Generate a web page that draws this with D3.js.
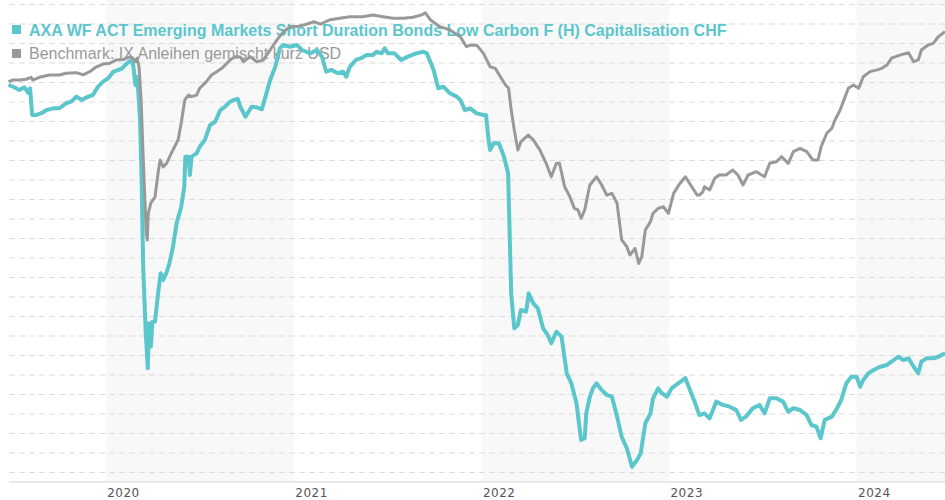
<!DOCTYPE html>
<html>
<head>
<meta charset="utf-8">
<script src="https://cdn.jsdelivr.net/npm/d3@7"></script>
<style>
  body { margin: 0; background: #fff; }
  svg { display: block; }
</style>
</head>
<body>
<div id="chart"></div>
<script>
// legend labels
const seriesNames = [
  "AXA WF ACT Emerging Markets Short Duration Bonds Low Carbon F (H) Capitalisation CHF",
  "Benchmark: IX Anleihen gemischt kurz USD"
];
const seriesColors = ["#5bc6cc", "#999999"];

// x axis labels (year starts) and the years drawn with a grey band
const yearTicks = ["2020-01-01", "2021-01-01", "2022-01-01", "2023-01-01", "2024-01-01"];
const shadedYears = ["2020", "2022", "2024"];

// y grid values (chart has no y labels, values are an unlabeled index)
const gridValues = d3.range(0, 241, 10);

// fund (teal)
const axaSeries = [
  ["2019-06-26", 198.5], ["2019-07-07", 197.3], ["2019-07-17", 195.9], ["2019-07-27", 197.3],
  ["2019-08-03", 194.5], ["2019-08-07", 196.8], ["2019-08-11", 183.1], ["2019-08-19", 183.1],
  ["2019-08-29", 184.0], ["2019-09-08", 185.6], ["2019-09-21", 186.5], ["2019-10-03", 186.5],
  ["2019-10-16", 189.1], ["2019-10-26", 189.9], ["2019-11-05", 192.5], ["2019-11-15", 190.8],
  ["2019-11-28", 192.5], ["2019-12-07", 193.3], ["2019-12-17", 197.6], ["2019-12-27", 200.2],
  ["2020-01-06", 201.9], ["2020-01-16", 205.3], ["2020-01-26", 206.2], ["2020-02-02", 207.0],
  ["2020-02-08", 208.7], ["2020-02-15", 210.4], ["2020-02-21", 211.3], ["2020-02-24", 207.8],
  ["2020-02-28", 198.5], ["2020-03-01", 202.7], ["2020-03-04", 196.8], ["2020-03-08", 180.5],
  ["2020-03-11", 149.7], ["2020-03-14", 105.3], ["2020-03-19", 71.3], ["2020-03-23", 53.2],
  ["2020-03-25", 76.3], ["2020-03-29", 64.3], ["2020-04-01", 77.1], ["2020-04-06", 77.1],
  ["2020-04-12", 91.6], ["2020-04-17", 101.9], ["2020-04-22", 98.5], ["2020-04-29", 102.7],
  ["2020-05-04", 107.0], ["2020-05-11", 115.5], ["2020-05-18", 127.5], ["2020-05-27", 136.0],
  ["2020-06-02", 146.3], ["2020-06-04", 161.7], ["2020-06-10", 161.7], ["2020-06-13", 152.3],
  ["2020-06-16", 161.7], ["2020-06-26", 163.4], ["2020-07-02", 166.8], ["2020-07-12", 170.3],
  ["2020-07-22", 177.9], ["2020-08-01", 179.6], ["2020-08-11", 185.6], ["2020-08-20", 187.3],
  ["2020-08-30", 189.9], ["2020-09-06", 190.8], ["2020-09-14", 191.3], ["2020-09-19", 187.3],
  ["2020-09-29", 182.2], ["2020-10-11", 187.3], ["2020-10-21", 187.0], ["2020-10-31", 186.0],
  ["2020-11-06", 191.6], ["2020-11-16", 201.0], ["2020-11-26", 207.8], ["2020-12-05", 217.3],
  ["2020-12-12", 219.0], ["2020-12-25", 218.1], ["2021-01-07", 219.0], ["2021-01-17", 216.4],
  ["2021-02-02", 214.7], ["2021-02-15", 216.4], ["2021-02-25", 213.0], ["2021-03-05", 205.3],
  ["2021-03-15", 206.2], ["2021-03-28", 204.5], ["2021-04-07", 205.3], ["2021-04-13", 202.7],
  ["2021-04-20", 207.8], ["2021-05-02", 211.3], ["2021-05-12", 212.2], ["2021-05-22", 213.8],
  ["2021-06-04", 213.8], ["2021-06-11", 215.5], ["2021-06-21", 214.7], ["2021-06-27", 217.3],
  ["2021-07-03", 214.7], ["2021-07-16", 214.7], ["2021-07-29", 211.3], ["2021-08-11", 213.0],
  ["2021-08-27", 214.7], ["2021-09-10", 215.5], ["2021-09-17", 214.7], ["2021-09-30", 206.2],
  ["2021-10-09", 196.8], ["2021-10-19", 197.6], ["2021-11-01", 194.2], ["2021-11-14", 192.5],
  ["2021-11-21", 190.8], ["2021-11-30", 185.6], ["2021-12-10", 186.5], ["2021-12-23", 183.9],
  ["2022-01-05", 183.1], ["2022-01-10", 183.1], ["2022-01-15", 170.3], ["2022-01-18", 165.1],
  ["2022-01-25", 168.6], ["2022-02-04", 168.6], ["2022-02-14", 161.7], ["2022-02-22", 153.2],
  ["2022-02-25", 122.4], ["2022-02-28", 91.6], ["2022-03-06", 73.7], ["2022-03-13", 75.4],
  ["2022-03-19", 83.1], ["2022-03-29", 82.2], ["2022-04-03", 91.6], ["2022-04-12", 86.5],
  ["2022-04-21", 83.9], ["2022-05-01", 73.7], ["2022-05-10", 70.3], ["2022-05-17", 66.0],
  ["2022-05-27", 71.9], ["2022-06-06", 69.4], ["2022-06-16", 50.6], ["2022-06-25", 45.5],
  ["2022-07-05", 35.2], ["2022-07-14", 16.4], ["2022-07-21", 17.3], ["2022-07-24", 30.1],
  ["2022-07-31", 38.6], ["2022-08-06", 42.9], ["2022-08-13", 45.5], ["2022-08-23", 42.1],
  ["2022-09-02", 39.5], ["2022-09-12", 38.6], ["2022-09-22", 28.4], ["2022-10-01", 18.1],
  ["2022-10-11", 12.2], ["2022-10-21", 2.7], ["2022-10-31", 6.2], ["2022-11-07", 9.6],
  ["2022-11-16", 25.0], ["2022-11-26", 30.1], ["2022-12-01", 37.8], ["2022-12-11", 42.9],
  ["2022-12-18", 40.4], ["2022-12-28", 38.6], ["2023-01-06", 42.9], ["2023-01-19", 45.5],
  ["2023-02-02", 48.1], ["2023-02-12", 41.2], ["2023-02-21", 35.2], ["2023-03-01", 29.2],
  ["2023-03-11", 30.1], ["2023-03-21", 27.5], ["2023-04-03", 36.1], ["2023-04-16", 34.4],
  ["2023-04-29", 33.5], ["2023-05-12", 31.8], ["2023-05-21", 26.7], ["2023-05-31", 28.4],
  ["2023-06-13", 32.7], ["2023-06-26", 34.4], ["2023-07-06", 30.1], ["2023-07-16", 37.8],
  ["2023-07-29", 37.8], ["2023-08-11", 36.1], ["2023-08-21", 30.9], ["2023-08-31", 32.7],
  ["2023-09-13", 31.8], ["2023-09-26", 29.2], ["2023-10-05", 24.1], ["2023-10-15", 23.2],
  ["2023-10-23", 17.3], ["2023-10-31", 26.7], ["2023-11-14", 28.4], ["2023-11-24", 32.7],
  ["2023-12-02", 36.9], ["2023-12-12", 45.5], ["2023-12-22", 48.9], ["2024-01-01", 48.9],
  ["2024-01-08", 43.7], ["2024-01-14", 47.2], ["2024-01-24", 50.6], ["2024-02-03", 52.3],
  ["2024-02-16", 54.0], ["2024-02-29", 54.9], ["2024-03-09", 56.6], ["2024-03-22", 59.1],
  ["2024-04-01", 57.4], ["2024-04-11", 58.3], ["2024-04-21", 54.0], ["2024-04-30", 50.6],
  ["2024-05-06", 56.6], ["2024-05-16", 58.3], ["2024-05-29", 58.3], ["2024-06-08", 59.1],
  ["2024-06-21", 60.9]
];

// benchmark (grey)
const benchSeries = [
  ["2019-06-26", 200.2], ["2019-07-04", 201.0], ["2019-07-17", 201.0], ["2019-07-30", 201.4],
  ["2019-08-09", 202.4], ["2019-08-12", 201.0], ["2019-08-25", 202.4], ["2019-09-14", 203.6],
  ["2019-10-03", 203.6], ["2019-10-16", 204.5], ["2019-11-05", 204.8], ["2019-11-18", 203.7],
  ["2019-12-01", 205.3], ["2019-12-14", 207.8], ["2019-12-27", 209.2], ["2020-01-09", 209.6],
  ["2020-01-22", 211.3], ["2020-02-05", 211.6], ["2020-02-15", 212.7], ["2020-02-21", 212.7],
  ["2020-02-28", 210.4], ["2020-03-02", 212.2], ["2020-03-06", 207.8], ["2020-03-10", 190.8],
  ["2020-03-13", 168.6], ["2020-03-16", 148.2], ["2020-03-20", 122.6], ["2020-03-22", 119.0],
  ["2020-03-24", 132.8], ["2020-03-29", 138.0], ["2020-04-06", 141.0], ["2020-04-12", 153.3],
  ["2020-04-16", 160.0], ["2020-04-22", 156.4], ["2020-04-29", 158.5], ["2020-05-08", 163.6],
  ["2020-05-14", 166.7], ["2020-05-21", 170.3], ["2020-05-27", 179.0], ["2020-06-03", 190.8],
  ["2020-06-10", 193.3], ["2020-06-16", 192.5], ["2020-06-26", 193.3], ["2020-07-02", 196.8],
  ["2020-07-15", 200.2], ["2020-07-25", 203.6], ["2020-08-04", 205.3], ["2020-08-14", 207.0],
  ["2020-08-24", 209.6], ["2020-08-30", 211.3], ["2020-09-09", 213.0], ["2020-09-19", 212.8],
  ["2020-09-25", 210.4], ["2020-10-08", 213.0], ["2020-10-21", 210.4], ["2020-11-03", 211.3],
  ["2020-11-16", 216.4], ["2020-11-29", 221.5], ["2020-12-12", 225.8], ["2020-12-25", 228.4],
  ["2021-01-07", 228.4], ["2021-01-20", 229.2], ["2021-02-09", 230.9], ["2021-02-22", 229.7],
  ["2021-03-11", 231.8], ["2021-03-31", 232.7], ["2021-04-20", 233.5], ["2021-05-15", 233.5],
  ["2021-06-04", 234.4], ["2021-06-24", 233.5], ["2021-07-13", 232.7], ["2021-08-02", 232.7],
  ["2021-08-21", 233.2], ["2021-09-07", 234.4], ["2021-09-14", 235.5], ["2021-09-24", 231.8],
  ["2021-10-12", 228.4], ["2021-11-01", 226.7], ["2021-11-21", 223.2], ["2021-12-03", 218.1],
  ["2021-12-10", 218.9], ["2021-12-23", 218.9], ["2022-01-05", 214.7], ["2022-01-18", 207.8],
  ["2022-01-28", 207.0], ["2022-02-07", 202.7], ["2022-02-17", 198.5], ["2022-02-23", 196.8],
  ["2022-02-28", 185.6], ["2022-03-06", 175.4], ["2022-03-13", 165.1], ["2022-03-19", 169.4],
  ["2022-04-02", 172.8], ["2022-04-12", 170.3], ["2022-04-25", 165.1], ["2022-05-07", 158.3],
  ["2022-05-17", 151.4], ["2022-05-27", 158.3], ["2022-06-02", 158.3], ["2022-06-12", 146.3],
  ["2022-06-22", 141.2], ["2022-07-01", 135.2], ["2022-07-08", 134.4], ["2022-07-14", 130.1],
  ["2022-07-21", 134.4], ["2022-07-31", 147.2], ["2022-08-13", 151.4], ["2022-08-23", 147.2],
  ["2022-09-02", 142.0], ["2022-09-12", 142.9], ["2022-09-22", 137.8], ["2022-10-01", 119.0],
  ["2022-10-11", 115.5], ["2022-10-17", 111.3], ["2022-10-27", 114.7], ["2022-11-03", 107.0],
  ["2022-11-09", 110.4], ["2022-11-16", 124.1], ["2022-11-26", 128.4], ["2022-12-01", 132.7],
  ["2022-12-11", 135.2], ["2022-12-21", 136.0], ["2022-12-31", 132.7], ["2023-01-10", 142.9],
  ["2023-01-20", 147.2], ["2023-02-02", 151.4], ["2023-02-12", 147.2], ["2023-02-25", 142.0],
  ["2023-03-01", 142.0], ["2023-03-08", 143.7], ["2023-03-11", 146.3], ["2023-03-21", 144.6],
  ["2023-03-31", 150.6], ["2023-04-09", 152.3], ["2023-04-22", 152.3], ["2023-05-05", 154.9],
  ["2023-05-15", 152.3], ["2023-05-25", 147.2], ["2023-06-04", 152.3], ["2023-06-20", 154.0],
  ["2023-07-06", 151.4], ["2023-07-16", 158.3], ["2023-07-29", 159.1], ["2023-08-08", 161.7],
  ["2023-08-21", 158.3], ["2023-08-31", 164.3], ["2023-09-13", 166.0], ["2023-09-26", 164.3],
  ["2023-10-08", 160.0], ["2023-10-18", 160.0], ["2023-10-24", 166.8], ["2023-11-04", 173.7],
  ["2023-11-14", 176.3], ["2023-11-20", 180.5], ["2023-11-30", 185.6], ["2023-12-06", 189.9],
  ["2023-12-16", 196.8], ["2023-12-26", 198.5], ["2024-01-05", 196.8], ["2024-01-14", 202.7],
  ["2024-01-27", 205.3], ["2024-02-10", 206.2], ["2024-02-19", 207.0], ["2024-02-29", 208.7],
  ["2024-03-09", 212.2], ["2024-03-25", 213.8], ["2024-04-11", 215.0], ["2024-04-21", 210.4],
  ["2024-04-30", 211.3], ["2024-05-06", 216.4], ["2024-05-19", 219.0], ["2024-05-29", 219.8],
  ["2024-06-08", 223.2], ["2024-06-21", 225.8]
];

const width = 945, height = 500;
const plotLeft = 9, axisY = 482;
const parse = d3.timeParse("%Y-%m-%d");

const x = d3.scaleTime()
  .domain([parse("2019-06-25"), parse("2024-06-21")])
  .range([8, width]);
const y = d3.scaleLinear().domain([0, 240]).range([472, 4]);

const svg = d3.select("#chart").append("svg")
  .attr("width", width)
  .attr("height", height);

// grey bands for every other year
svg.append("g").selectAll("rect")
  .data(shadedYears)
  .enter().append("rect")
  .attr("x", d => x(parse(d + "-01-01")))
  .attr("y", 0)
  .attr("width", d => {
    const end = d3.min([parse((+d + 1) + "-01-01"), x.domain()[1]]);
    return x(end) - x(parse(d + "-01-01"));
  })
  .attr("height", axisY)
  .attr("fill", "#f8f8f8");

// dashed horizontal grid
const grid = svg.append("g")
  .attr("transform", "translate(" + plotLeft + ",0)")
  .call(d3.axisLeft(y).tickValues(gridValues).tickSize(-(width - plotLeft)).tickFormat(""));
grid.select(".domain").remove();
grid.selectAll(".tick line")
  .attr("stroke", "#dcdcdc")
  .attr("stroke-width", 1)
  .attr("stroke-dasharray", "6,4");

// x axis
const xAxis = svg.append("g")
  .attr("transform", "translate(0," + axisY + ")")
  .call(d3.axisBottom(x)
    .tickValues(yearTicks.map(parse))
    .tickSize(0)
    .tickFormat(d3.timeFormat("%Y")));
xAxis.select(".domain")
  .attr("d", "M" + plotLeft + ",0H" + width)
  .attr("stroke", "#e0e0e0")
  .attr("stroke-width", 1.5);
xAxis.selectAll(".tick text")
  .attr("text-anchor", "start")
  .attr("dx", 1)
  .attr("y", 6)
  .attr("dy", "0.71em")
  .style("font-family", "'DejaVu Sans', Verdana, sans-serif")
  .style("font-size", "12px")
  .style("letter-spacing", "0.5px")
  .attr("fill", "#555");

// legend (sits under the lines)
const legend = svg.append("g");
seriesNames.forEach((name, i) => {
  legend.append("rect")
    .attr("x", 12)
    .attr("y", 25 + i * 24)
    .attr("width", 9)
    .attr("height", 9)
    .attr("fill", seriesColors[i]);
  legend.append("text")
    .attr("x", 29)
    .attr("y", 36 + i * 23)
    .style("font-family", "'Liberation Sans', Arial, sans-serif")
    .style("font-size", "16px")
    .style("font-weight", i === 0 ? "bold" : "normal")
    .attr("fill", seriesColors[i])
    .text(name);
});

const line = d3.line()
  .x(d => x(parse(d[0])))
  .y(d => y(d[1]));

svg.append("path")
  .datum(axaSeries)
  .attr("fill", "none")
  .attr("stroke", seriesColors[0])
  .attr("stroke-width", 4)
  .attr("stroke-linejoin", "round")
  .attr("d", line);

svg.append("path")
  .datum(benchSeries)
  .attr("fill", "none")
  .attr("stroke", seriesColors[1])
  .attr("stroke-width", 3)
  .attr("stroke-linejoin", "round")
  .attr("d", line);
</script>
</body>
</html>
